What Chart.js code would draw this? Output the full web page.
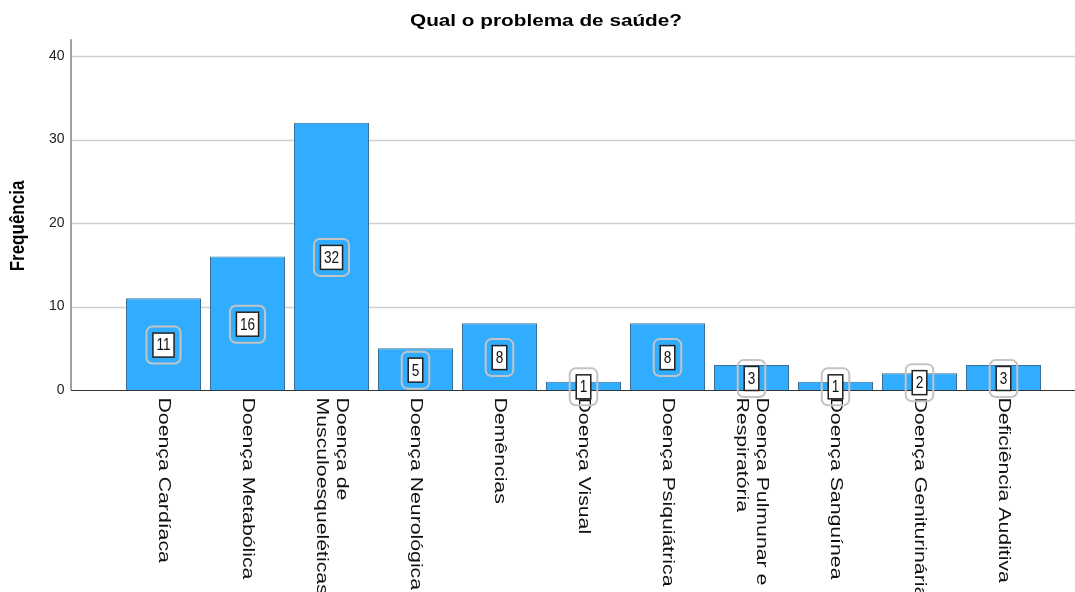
<!DOCTYPE html>
<html>
<head>
<meta charset="utf-8">
<script src="https://cdn.jsdelivr.net/npm/chart.js@4.4.1/dist/chart.umd.min.js"></script>
<style>
  html, body { margin: 0; padding: 0; background: #fff; }
  #wrap { width: 1075px; height: 592px; position: relative; }
</style>
</head>
<body>
<div id="wrap"><canvas id="chart"></canvas></div>
<script>
// Data
const categories = [
  ['Doença Cardíaca'],
  ['Doença Metabólica'],
  ['Doença de', 'Musculoesqueléticas'],
  ['Doença Neurológica'],
  ['Demências'],
  ['Doença Visual'],
  ['Doença Psiquiátrica'],
  ['Doença Pulmunar e', 'Respiratória'],
  ['Doença Sanguínea'],
  ['Doença Geniturinária'],
  ['Deficiência Auditiva']
];
const frequencies = [11, 16, 32, 5, 8, 1, 8, 3, 1, 2, 3];
const yTicks = [0, 10, 20, 30, 40];

const chartTitle = 'Qual o problema de saúde?';
const yTitle = 'Frequência';
const FONT = '"Liberation Sans", Arial, sans-serif';

const AXIS_X = 71;     // where the y axis line sits
const RIGHT_EDGE = 1075;

// Gridlines, axis lines and titles
const framePlugin = {
  id: 'frame',
  beforeDatasetsDraw(chart) {
    const { ctx, scales: { y } } = chart;
    ctx.save();
    ctx.strokeStyle = '#cfcfcf';
    ctx.lineWidth = 1.5;
    yTicks.forEach(t => {
      if (t === 0) return;
      const py = Math.round(y.getPixelForValue(t)) + 0.5;
      ctx.beginPath();
      ctx.moveTo(AXIS_X, py);
      ctx.lineTo(RIGHT_EDGE, py);
      ctx.stroke();
    });
    // y axis line
    ctx.strokeStyle = '#a0a0a0';
    ctx.lineWidth = 2;
    ctx.beginPath();
    ctx.moveTo(AXIS_X, y.getPixelForValue(y.max));
    ctx.lineTo(AXIS_X, y.getPixelForValue(0));
    ctx.stroke();
    ctx.restore();
  },
  afterDatasetsDraw(chart) {
    const { ctx, scales: { x, y } } = chart;
    ctx.save();
    // x axis line
    const y0 = Math.round(y.getPixelForValue(0)) + 0.5;
    ctx.strokeStyle = '#333';
    ctx.lineWidth = 1.2;
    ctx.beginPath();
    ctx.moveTo(AXIS_X, y0);
    ctx.lineTo(RIGHT_EDGE, y0);
    ctx.stroke();

    // chart title (stretched a bit wider like the original)
    ctx.fillStyle = '#000';
    ctx.font = 'bold 17px ' + FONT;
    ctx.textAlign = 'center';
    ctx.textBaseline = 'middle';
    ctx.save();
    ctx.translate(546, 21);
    ctx.scale(1.22, 1);
    ctx.fillText(chartTitle, 0, 0);
    ctx.restore();

    // y title
    ctx.save();
    ctx.translate(18, 226);
    ctx.rotate(-Math.PI / 2);
    ctx.scale(1, 1.2);
    ctx.fillText(yTitle, 0, 0);
    ctx.restore();

    // category labels, rotated clockwise; first line sits on the right
    ctx.font = '17px ' + FONT;
    ctx.fillStyle = '#111';
    ctx.textAlign = 'left';
    categories.forEach((lines, i) => {
      const px = x.getPixelForValue(i);
      ctx.save();
      ctx.translate(px, y0 + 7);
      ctx.rotate(Math.PI / 2);
      ctx.scale(1.25, 1);
      const n = lines.length;
      lines.forEach((ln, k) => {
        const off = (k - (n - 1) / 2) * 20;
        ctx.fillText(ln, 0, off);
      });
      ctx.restore();
    });

    // value labels in boxes at half bar height
    const meta = chart.getDatasetMeta(0);
    ctx.font = '16px ' + FONT;
    ctx.textAlign = 'center';
    meta.data.forEach((bar, i) => {
      const v = frequencies[i];
      const cx = bar.x;
      const cy = y.getPixelForValue(v / 2) + 1;
      const tw = ctx.measureText(String(v)).width * 0.85;
      const w = tw + 7, h = 24;
      // outer rounded ring
      ctx.strokeStyle = '#c4c4c4';
      ctx.lineWidth = 2;
      ctx.beginPath();
      ctx.roundRect(cx - w / 2 - 6.5, cy - h / 2 - 6.5, w + 13, h + 13, 6);
      ctx.stroke();
      // inner box
      ctx.fillStyle = '#fff';
      ctx.fillRect(cx - w / 2, cy - h / 2, w, h);
      ctx.strokeStyle = '#222';
      ctx.lineWidth = 1.5;
      ctx.strokeRect(cx - w / 2, cy - h / 2, w, h);
      ctx.fillStyle = '#111';
      ctx.save();
      ctx.translate(cx, cy + 1);
      ctx.scale(0.85, 1);
      ctx.fillText(String(v), 0, 0);
      ctx.restore();
    });
    ctx.restore();
  }
};

new Chart(document.getElementById('chart'), {
  type: 'bar',
  data: {
    labels: categories,
    datasets: [{
      data: frequencies,
      backgroundColor: '#31adff',
      borderColor: '#3d6f96',
      borderWidth: 1,
      categoryPercentage: 1,
      barPercentage: 0.893
    }]
  },
  plugins: [framePlugin],
  options: {
    responsive: true,
    maintainAspectRatio: false,
    animation: false,
    layout: { padding: { top: 39.3, right: 29.5, left: 0, bottom: 0 } },
    plugins: {
      legend: { display: false },
      tooltip: { enabled: false },
      title: { display: false }
    },
    scales: {
      x: {
        grid: { display: false },
        border: { display: false },
        ticks: { display: false },
        afterFit(scale) { scale.height = 202; }
      },
      y: {
        min: 0,
        max: 42,
        // hidden tick marks give the label offset without padding the top
        grid: { display: false, drawTicks: true, tickLength: 54 },
        border: { display: false },
        afterBuildTicks(scale) { scale.ticks = yTicks.map(v => ({ value: v })); },
        afterFit(scale) { scale.width = 121.5; },
        ticks: {
          padding: 3,
          color: '#222',
          font: { size: 14, family: FONT }
        }
      }
    }
  }
});
</script>
</body>
</html>
